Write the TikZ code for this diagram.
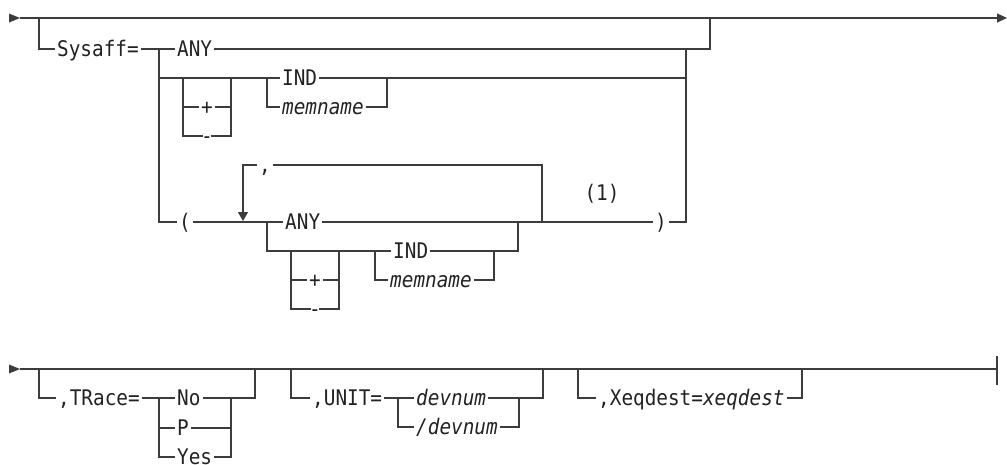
\documentclass[tikz,border=0pt]{standalone}
\usepackage{fontspec}
\setmonofont{DejaVu Sans Mono}[FakeStretch=0.9]
\usepackage{xcolor}
\definecolor{railgray}{HTML}{3c3c3c}
\definecolor{ink}{HTML}{222222}
\usetikzlibrary{arrows.meta}

\begin{document}
\begin{tikzpicture}[
  x=1pt, y=-1pt,
  kw/.style={font=\fontsize{21.5}{21.5}\selectfont\ttfamily, text=ink, inner xsep=2pt, inner ysep=0pt, text height=15.6pt, text depth=0pt, anchor=west},
  var/.style={kw, font=\fontsize{21.5}{21.5}\selectfont\ttfamily\itshape},
  sym/.style={kw, anchor=center},
  dashsym/.style={sym, inner xsep=-2pt},
  rail/.style={draw=railgray, line width=1.2pt},
  tip/.style={rail, -{Triangle[length=10pt, width=9pt]}},
]
\useasboundingbox (0,0) rectangle (1007,464);

% Main line (Sysaff)
\coordinate (a0) at (20,18);
\coordinate (a1) at (1007,18);
\fill[railgray] (9,13.5) -- (20,18) -- (9,22.5) -- cycle;
\draw[tip] (a0) -- (a1);

% Keywords and variables
\node[kw] (sysaff) at (55,49) {Sysaff=};
\node[kw] (any1) at (175,49) {ANY};
\node[sym] (plus1) at (207,107) {+};
\node[dashsym] (minus1) at (207,136) {-};
\node[kw] (ind1) at (280,78) {IND};
\node[var] (mem1) at (280,107) {memname};
\node[sym] (lpar) at (185,222) {(};
\node[sym] (comma) at (265,165) {,};
\node[kw] (any2) at (283,222) {ANY};
\node[sym] (plus2) at (315,280) {+};
\node[dashsym] (minus2) at (315,309) {-};
\node[kw] (ind2) at (391,251) {IND};
\node[var] (mem2) at (388,280) {memname};
\node[sym] (rpar) at (661,222) {)};
\node[sym] (note) at (602,193) {(1)};

% Junctions
\coordinate (sl) at (39,18);
\coordinate (sr) at (710,18);
\coordinate (j1) at (159,49);
\coordinate (j2) at (686,49);
\coordinate (c1) at (159,78);
\coordinate (c2) at (686,78);
\coordinate (b1l) at (183,78);
\coordinate (b1r) at (231,78);
\coordinate (d1) at (267,78);
\coordinate (d1r) at (387,78);
\coordinate (lp0) at (243,221);
\coordinate (lpr) at (542,222);
\coordinate (e1) at (267,222);
\coordinate (e2) at (518,222);
\coordinate (b2l) at (291,251);
\coordinate (b2r) at (339,251);
\coordinate (f1) at (375,251);
\coordinate (f2) at (494,251);

% Sysaff= branch
\draw[rail] (sl) |- (sysaff);
\draw[rail] (sysaff) -- (any1);
\draw[rail] (any1) -| (sr);
\draw[rail] (j1) |- (lpar);
\draw[rail] (c1) -- (ind1);
\draw[rail] (ind1) -- (c2);
\draw[rail] (rpar) -| (j2);

% +/- and IND/memname
\draw[rail] (b1l) |- (plus1);
\draw[rail] (plus1) -| (b1r);
\draw[rail] (b1l) |- (minus1);
\draw[rail] (minus1) -| (b1r);
\draw[rail] (d1) |- (mem1);
\draw[rail] (mem1) -| (d1r);

% Repeated list in parentheses
\draw[rail] (lpar) -- (any2);
\draw[rail] (any2) -- (rpar);
\draw[rail] (lpr) |- (comma);
\draw[tip, -{Triangle[length=9pt, width=10pt]}] (comma) -| (lp0);
\draw[rail] (e1) |- (ind2);
\draw[rail] (ind2) -| (e2);
\draw[rail] (b2l) |- (plus2);
\draw[rail] (plus2) -| (b2r);
\draw[rail] (b2l) |- (minus2);
\draw[rail] (minus2) -| (b2r);
\draw[rail] (f1) |- (mem2);
\draw[rail] (mem2) -| (f2);

% Main line (TRace, UNIT, Xeqdest)
\coordinate (m0) at (20,369);
\coordinate (m1) at (997,369);
\coordinate (bar0) at (997,356);
\coordinate (bar1) at (997,385);
\fill[railgray] (9,364.5) -- (20,369) -- (9,373.5) -- cycle;
\draw[rail] (m0) -- (m1);
\draw[rail] (bar0) -- (bar1);
\coordinate (k0) at (808,369);
\coordinate (k1) at (832,369);
\draw[rail, line width=2.2pt] (k0) -- (k1);

\node[kw] (trace) at (56,398) {,TRace=};
\node[kw] (no) at (175,398) {No};
\node[kw] (p) at (175,428) {P};
\node[kw] (yes) at (175,457) {Yes};
\node[kw] (unit) at (310,398) {,UNIT=};
\node[var] (dev1) at (414,398) {devnum};
\node[var] (dev2) at (414,427) {/devnum};
\node[kw] (xeq) at (596,398) {,Xeqdest=\itshape xeqdest};

\coordinate (t0) at (39,369);
\coordinate (t1) at (255,369);
\coordinate (g1) at (159,398);
\coordinate (g2) at (231,398);
\coordinate (u0) at (291,369);
\coordinate (u1) at (543,369);
\coordinate (h1) at (398,398);
\coordinate (h2) at (519,398);
\coordinate (x0) at (578,369);
\coordinate (x1) at (802,369);

\draw[rail] (t0) |- (trace);
\draw[rail] (trace) -- (no);
\draw[rail] (no) -| (t1);
\draw[rail] (g1) |- (p);
\draw[rail] (g1) |- (yes);
\draw[rail] (p) -| (g2);
\draw[rail] (yes) -| (g2);

\draw[rail] (u0) |- (unit);
\draw[rail] (unit) -- (dev1);
\draw[rail] (dev1) -| (u1);
\draw[rail] (h1) |- (dev2);
\draw[rail] (dev2) -| (h2);

\draw[rail] (x0) |- (xeq);
\draw[rail] (xeq) -| (x1);

\end{tikzpicture}
\end{document}
